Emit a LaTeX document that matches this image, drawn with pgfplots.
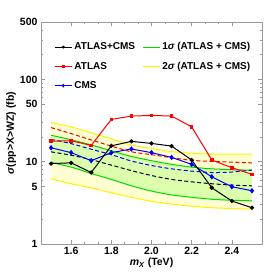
\documentclass[border=0pt]{standalone}
\usepackage{fontspec}
\setmainfont{Liberation Sans}
\usepackage{pgfplots}
\usepackage{pgfplotstable}
\pgfplotsset{compat=1.18}
\usepgfplotslibrary{fillbetween}
\usetikzlibrary{calc}

\definecolor{bandgreen}{rgb}{0.86,1.0,0.68}
\definecolor{bandyellow}{rgb}{1.0,1.0,0.82}
\definecolor{lgreen}{rgb}{0.0,0.85,0.0}
\definecolor{lyellow}{rgb}{1.0,0.95,0.0}
\definecolor{mred}{rgb}{1,0,0}
\definecolor{mblue}{rgb}{0,0,1}
\definecolor{axgray}{rgb}{0.6,0.6,0.6}

\pgfplotstableread{
x comb atlas cms
1.5 9.5 17.8 14.8
1.6 9.7 18.0 12.9
1.7 7.4 15.8 10.3
1.8 15.6 32.7 12.9
1.9 17.7 35.9 14.3
2.0 16.7 36.6 12.9
2.1 15.5 35.9 11.3
2.2 10.5 26.6 9.3
2.3 4.83 10.5 6.57
2.4 3.33 8.46 4.97
2.5 2.76 7.03 4.44
}\obs

\pgfplotstableread{
x expcomb expatlas expcms g1lo g1hi g2lo g2hi
1.5 13.2 26 18.7 9.8 21 6.2 30
1.6 12.0 22 16.6 8.6 18.5 5.4 26.5
1.7 10.6 18.4 14.2 7.2 16 4.8 22.5
1.8 9.1 15.5 12.2 6.1 13.6 4.2 19
1.9 7.8 13.2 10.2 5.1 11.6 3.7 16
2.0 6.8 12.2 9.0 4.4 10.3 3.3 14.5
2.1 6.1 11.2 8.2 3.95 9.3 3.05 13.3
2.2 5.7 10.4 7.7 3.7 8.6 2.88 12.7
2.3 5.4 10.1 7.4 3.5 8.2 2.76 12.4
2.4 5.2 9.9 7.5 3.4 8.0 2.7 12.4
2.5 5.1 9.7 7.9 3.35 7.9 2.65 12.4
}\expt

\begin{document}
\begin{tikzpicture}
\begin{axis}[
  name=ax,
  scale only axis,
  width=221pt, height=222pt,
  ymode=log,
  xmin=1.45, xmax=2.55,
  ymin=1, ymax=500,
  xtick={1.6,1.8,2.0,2.2,2.4},
  xticklabels={1.6,1.8,2.0,2.2,2.4},
  minor x tick num=2,
  ytick={1,5,10,50,100,500},
  yticklabels={1,5,10,50,100,500},
  minor ytick={2,3,4,6,7,8,9,20,30,40,60,70,80,90,200,300,400},
  tick align=inside,
  major tick length=4pt, minor tick length=2pt,
  tick style={axgray, line width=0.6pt},
  axis line style={axgray, line width=0.8pt},
  tick label style={font=\bfseries\fontsize{10.5}{11}\selectfont},
  /pgf/number format/assume math mode=true,
  xlabel={\bfseries\textit{m}\textsubscript{\textit{X}} (TeV)},
  ylabel={\bfseries{\itshape σ}(pp>X>WZ) (fb)},
  label style={font=\bfseries\fontsize{10.5}{11}\selectfont},
  xlabel style={yshift=4pt},
  ylabel style={yshift=-3pt},
  legend columns=2,
  legend style={draw=none, fill=none, font=\bfseries\fontsize{10}{11}\selectfont,
    at={(0.045,0.9255)}, anchor=north west, row sep=6.6pt,
    /tikz/every even column/.append style={column sep=5pt}},
  legend cell align=left,
  legend image code/.code={
    \draw[#1, line width=1.2pt] (0cm,0cm) -- (0.6cm,0cm);
    \draw[#1, only marks] plot coordinates {(0.3cm,0cm)};},
]
% band paths
\addplot[name path=g2hi, draw=none, forget plot] table[x=x,y=g2hi]{\expt};
\addplot[name path=g2lo, draw=none, forget plot] table[x=x,y=g2lo]{\expt};
\addplot[name path=g1hi, draw=none, forget plot] table[x=x,y=g1hi]{\expt};
\addplot[name path=g1lo, draw=none, forget plot] table[x=x,y=g1lo]{\expt};
\addplot[bandyellow, forget plot] fill between[of=g2hi and g2lo];
\addplot[bandgreen, forget plot] fill between[of=g1hi and g1lo];
% band lines
\addplot[lyellow, line width=1pt, smooth, forget plot] table[x=x,y=g2hi]{\expt};
\addplot[lyellow, line width=1pt, smooth, forget plot] table[x=x,y=g2lo]{\expt};
\addplot[lgreen, line width=1pt, smooth, forget plot] table[x=x,y=g1hi]{\expt};
\addplot[lgreen, line width=1pt, smooth, forget plot] table[x=x,y=g1lo]{\expt};
% expected
\addplot[mred, line width=1pt, smooth, dash pattern=on 4pt off 2.5pt, forget plot] table[x=x,y=expatlas]{\expt};
\addplot[mblue, line width=1pt, smooth, dash pattern=on 4pt off 2.5pt, forget plot] table[x=x,y=expcms]{\expt};
\addplot[black, line width=1pt, smooth, dash pattern=on 4pt off 2.5pt, forget plot] table[x=x,y=expcomb]{\expt};
% observed
\addplot[mred, line width=1pt, mark=square*, mark size=1.3pt, forget plot] table[x=x,y=atlas]{\obs};
\addplot[mblue, line width=1pt, mark=diamond*, mark size=2pt, forget plot] table[x=x,y=cms]{\obs};
\addplot[black, line width=1pt, mark=*, mark size=1.6pt, forget plot] table[x=x,y=comb]{\obs};
% legend
\addlegendimage{draw=black, fill=black, mark=*, mark size=1.3pt}
\addlegendentry{ATLAS+CMS}
\addlegendimage{draw=lgreen, mark=none}
\addlegendentry{1{\itshape σ} (ATLAS + CMS)}
\addlegendimage{draw=mred, fill=mred, mark=square*, mark size=1.1pt}
\addlegendentry{ATLAS}
\addlegendimage{draw=lyellow, mark=none}
\addlegendentry{2{\itshape σ} (ATLAS + CMS)}
\addlegendimage{draw=mblue, fill=mblue, mark=diamond*, mark size=1.6pt}
\addlegendentry{CMS}
\node[font=\bfseries\fontsize{12}{13}\selectfont, anchor=base] at (rel axis cs:0.075,1.045) {JJ};
\node[font=\bfseries\fontsize{12}{13}\selectfont, anchor=base] at (rel axis cs:0.84,1.045) {\textit{W}\textsubscript{\textit{L}}\textit{Z}\textsubscript{\textit{L}}};
\end{axis}
\pgfresetboundingbox
\path ($(ax.south west)+(-41pt,-34pt)$) rectangle ($(ax.north east)+(4pt,22pt)$);
\end{tikzpicture}
\end{document}
